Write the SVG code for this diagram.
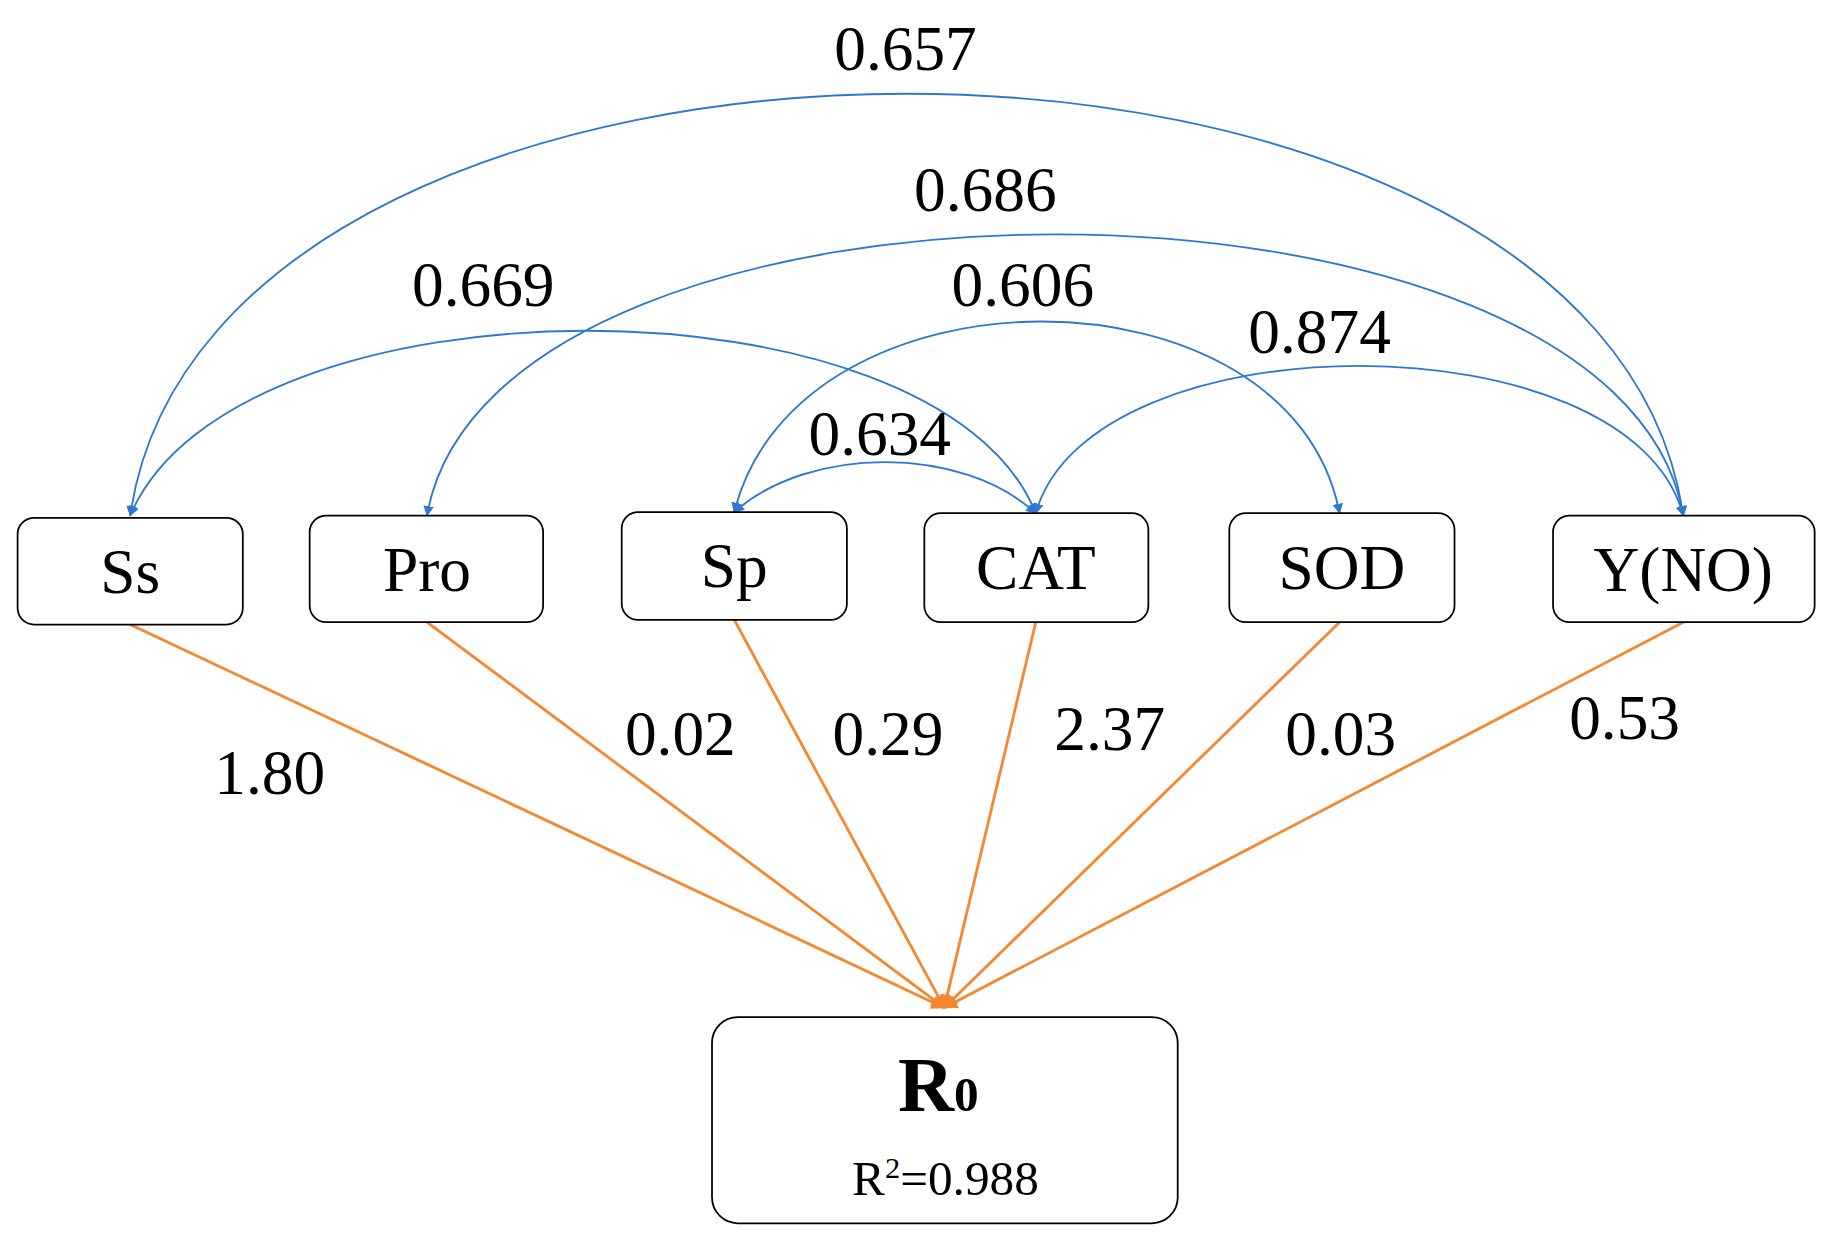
<svg xmlns="http://www.w3.org/2000/svg" width="1830" height="1242" viewBox="0 0 1830 1242">
<style>
text{font-family:"Liberation Serif","Times New Roman",serif;fill:#000;text-anchor:middle}
.box{fill:#fff;stroke:#000;stroke-width:1.5}
.lbl{font-size:54px}
.b{fill:none;stroke:#2f78d0;stroke-width:1.6;marker-start:url(#ab);marker-end:url(#ab)}
.o{fill:none;stroke:#f5872f;stroke-width:2.4;marker-end:url(#ao)}
.n{font-size:54px}
</style>
<defs>
<marker id="ab" viewBox="0 0 10 10" refX="9" refY="5" markerWidth="9" markerHeight="9" markerUnits="userSpaceOnUse" orient="auto-start-reverse"><path d="M0,0L10,5L0,10z" fill="#2f78d0"/></marker>
<marker id="ao" viewBox="0 0 10 10" refX="9" refY="5" markerWidth="14" markerHeight="12" markerUnits="userSpaceOnUse" orient="auto"><path d="M0,0L10,5L0,10z" fill="#f5872f"/></marker>
</defs>
<rect width="1830" height="1242" fill="#fff"/>
<g transform="scale(1.173,1.1717)">
<g id="connectors">
<path class="b" d="M111,440 C180,-40 1366,-40 1435,440"/>
<path class="b" d="M364,440 C420,120 1380,120 1435,440"/>
<path class="b" d="M111,440 C200,230 800,230 883,438"/>
<path class="b" d="M626,437 C680,220 1100,220 1142,438"/>
<path class="b" d="M883,438 C930,270 1390,270 1435,440"/>
<path class="b" d="M626,437 C690,380 820,380 883,438"/>
<path class="o" d="M111,533L805,860"/>
<path class="o" d="M364,531L805,860"/>
<path class="o" d="M626,529L805,860"/>
<path class="o" d="M883,531L805,860"/>
<path class="o" d="M1142,531L805,860"/>
<path class="o" d="M1435,531L805,860"/>
<text class="n" x="772" y="60">0.657</text>
<text class="n" x="840" y="180">0.686</text>
<text class="n" x="412" y="261">0.669</text>
<text class="n" x="872" y="261">0.606</text>
<text class="n" x="1125" y="301">0.874</text>
<text class="n" x="750" y="388">0.634</text>
<text class="n" x="230" y="678">1.80</text>
<text class="n" x="580" y="644">0.02</text>
<text class="n" x="757" y="644">0.29</text>
<text class="n" x="946" y="640">2.37</text>
<text class="n" x="1143" y="644">0.03</text>
<text class="n" x="1385" y="631">0.53</text>
</g>
<g id="Ss"><rect class="box" x="15" y="442" width="192" height="91" rx="14"/><text class="lbl" x="111" y="506">Ss</text></g>
<g id="Pro"><rect class="box" x="264" y="440" width="199" height="91" rx="14"/><text class="lbl" x="364" y="504">Pro</text></g>
<g id="Sp"><rect class="box" x="530" y="437" width="192" height="92" rx="14"/><text class="lbl" x="626" y="501">Sp</text></g>
<g id="CAT"><rect class="box" x="788" y="438" width="191" height="93" rx="14"/><text class="lbl" x="883" y="503">CAT</text></g>
<g id="SOD"><rect class="box" x="1048" y="438" width="192" height="93" rx="14"/><text class="lbl" x="1144" y="503">SOD</text></g>
<g id="YNO"><rect class="box" x="1324" y="440" width="223" height="91" rx="14"/><text class="lbl" x="1435" y="504">Y(NO)</text></g>
<g id="R0"><rect class="box" x="607" y="868" width="397" height="176" rx="22"/>
<text x="800" y="948" font-size="66" font-weight="bold">R<tspan font-size="42">0</tspan></text>
<text x="806" y="1020" font-size="42">R<tspan font-size="26" dy="-15">2</tspan><tspan dy="15">=0.988</tspan></text></g>
</g>
</svg>
